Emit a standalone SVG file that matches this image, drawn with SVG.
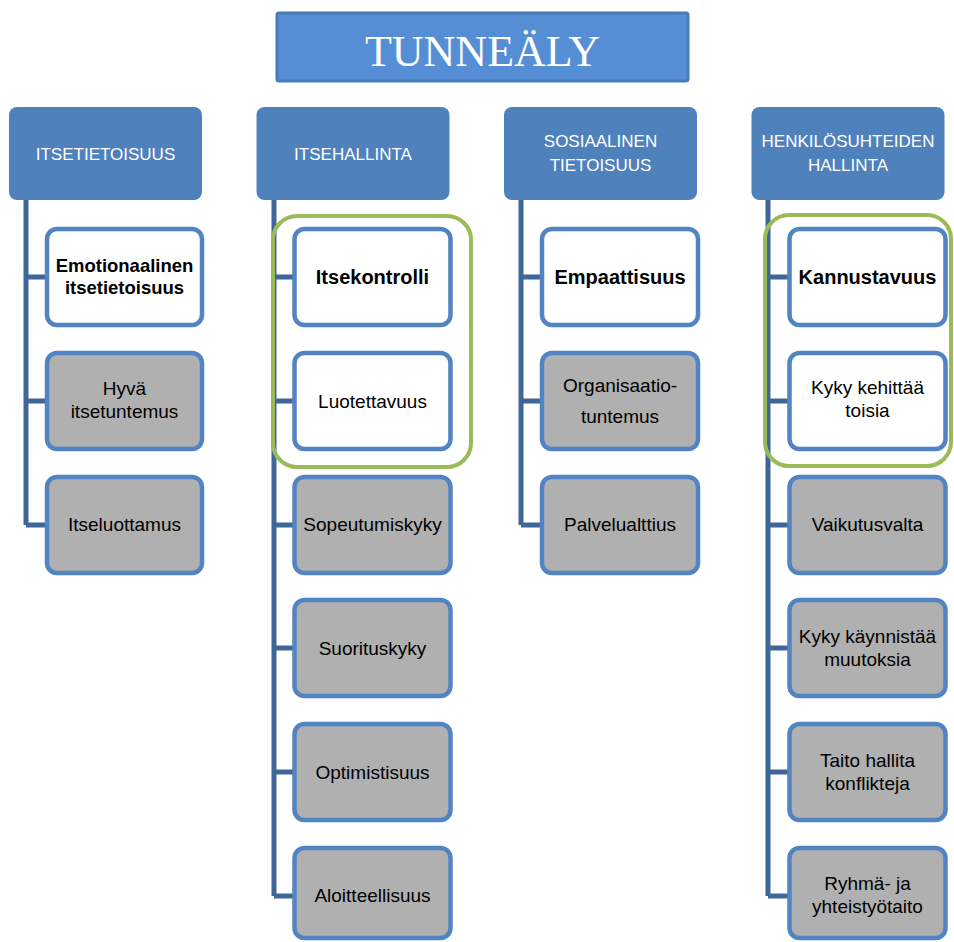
<svg xmlns="http://www.w3.org/2000/svg" width="954" height="942" viewBox="0 0 954 942">
<style>
.hdr{fill:#4F81BD;}
.ht{fill:#FFFFFF;font-family:"Liberation Sans",Arial,sans-serif;font-size:17px;text-anchor:middle;}
.ch{stroke:#5283C2;stroke-width:4.5;}
.w{fill:#FFFFFF;}
.g{fill:#B0B0B0;}
.t{fill:#000000;font-family:"Liberation Sans",Arial,sans-serif;font-size:19px;text-anchor:middle;}
.b{font-weight:bold;font-size:20px;}
.b.s{font-size:18.5px;}
.con{fill:none;stroke:#3F6699;stroke-width:5;}
.grp{fill:none;stroke:#9BBB59;stroke-width:4;}
</style>
<rect width="954" height="942" fill="#FFFFFF"/>
<g id="title">
<rect x="277" y="13" width="411" height="68" fill="#558ED5" stroke="#4A7BBA" stroke-width="3" rx="2"/>
<text x="482.5" y="66" fill="#FFFFFF" font-family="'Liberation Serif','Times New Roman',serif" font-size="44" text-anchor="middle">TUNNEÄLY</text>
</g>
<g id="connectors">
<path class="con" d="M26,200 V525 M26,277 H46 M26,401 H46 M26,525 H46"/>
<path class="con" d="M274,200 V896 M274,277 H293 M274,401 H293 M274,525 H293 M274,648 H293 M274,772 H293 M274,896 H293"/>
<path class="con" d="M521,200 V525 M521,277 H541 M521,401 H541 M521,525 H541"/>
<path class="con" d="M768,200 V896 M768,277 H788 M768,401 H788 M768,525 H788 M768,648 H788 M768,772 H788 M768,896 H788"/>
</g>
<g id="h1"><rect class="hdr" x="9" y="107" width="193" height="93" rx="8"/><text class="ht" x="105.5" y="159.5">ITSETIETOISUUS</text></g>
<g id="h2"><rect class="hdr" x="256.5" y="107" width="193" height="93" rx="8"/><text class="ht" x="353" y="159.5">ITSEHALLINTA</text></g>
<g id="h3"><rect class="hdr" x="504" y="107" width="193" height="93" rx="8"/><text class="ht" x="600.5" y="147">SOSIAALINEN</text><text class="ht" x="600.5" y="171">TIETOISUUS</text></g>
<g id="h4"><rect class="hdr" x="751.5" y="107" width="193" height="93" rx="8"/><text class="ht" x="848" y="147">HENKILÖSUHTEIDEN</text><text class="ht" x="848" y="171">HALLINTA</text></g>

<g id="c1a"><rect class="ch w" x="47" y="229" width="155" height="96" rx="10"/><text class="t b s" x="124.5" y="272">Emotionaalinen</text><text class="t b s" x="124.5" y="294">itsetietoisuus</text></g>
<g id="c1b"><rect class="ch g" x="47" y="353" width="155" height="96" rx="10"/><text class="t" x="124.5" y="395">Hyvä</text><text class="t" x="124.5" y="418">itsetuntemus</text></g>
<g id="c1c"><rect class="ch g" x="47" y="477" width="155" height="96" rx="10"/><text class="t" x="124.5" y="531">Itseluottamus</text></g>

<g id="c2a"><rect class="ch w" x="294.5" y="229" width="156" height="96" rx="10"/><text class="t b" x="372.5" y="284">Itsekontrolli</text></g>
<g id="c2b"><rect class="ch w" x="294.5" y="353" width="156" height="96" rx="10"/><text class="t" x="372.5" y="407.5">Luotettavuus</text></g>
<g id="c2c"><rect class="ch g" x="294.5" y="477" width="156" height="96" rx="10"/><text class="t" x="372.5" y="531">Sopeutumiskyky</text></g>
<g id="c2d"><rect class="ch g" x="294.5" y="600" width="156" height="96" rx="10"/><text class="t" x="372.5" y="654.5">Suorituskyky</text></g>
<g id="c2e"><rect class="ch g" x="294.5" y="724" width="156" height="96" rx="10"/><text class="t" x="372.5" y="778.5">Optimistisuus</text></g>
<g id="c2f"><rect class="ch g" x="294.5" y="848" width="156" height="90" rx="10"/><text class="t" x="372.5" y="902">Aloitteellisuus</text></g>

<g id="c3a"><rect class="ch w" x="542" y="229" width="156" height="96" rx="10"/><text class="t b" x="620" y="284">Empaattisuus</text></g>
<g id="c3b"><rect class="ch g" x="542" y="353" width="156" height="96" rx="10"/><text class="t" x="620" y="392">Organisaatio-</text><text class="t" x="620" y="423">tuntemus</text></g>
<g id="c3c"><rect class="ch g" x="542" y="477" width="156" height="96" rx="10"/><text class="t" x="620" y="531">Palvelualttius</text></g>

<g id="c4a"><rect class="ch w" x="789.5" y="229" width="156" height="96" rx="10"/><text class="t b" x="867.5" y="284">Kannustavuus</text></g>
<g id="c4b"><rect class="ch w" x="789.5" y="353" width="156" height="96" rx="10"/><text class="t" x="867.5" y="394">Kyky kehittää</text><text class="t" x="867.5" y="417">toisia</text></g>
<g id="c4c"><rect class="ch g" x="789.5" y="477" width="156" height="96" rx="10"/><text class="t" x="867.5" y="531">Vaikutusvalta</text></g>
<g id="c4d"><rect class="ch g" x="789.5" y="600" width="156" height="96" rx="10"/><text class="t" x="867.5" y="643">Kyky käynnistää</text><text class="t" x="867.5" y="666">muutoksia</text></g>
<g id="c4e"><rect class="ch g" x="789.5" y="724" width="156" height="96" rx="10"/><text class="t" x="867.5" y="767">Taito hallita</text><text class="t" x="867.5" y="790">konflikteja</text></g>
<g id="c4f"><rect class="ch g" x="789.5" y="848" width="156" height="90" rx="10"/><text class="t" x="867.5" y="890">Ryhmä- ja</text><text class="t" x="867.5" y="913">yhteistyötaito</text></g>

<g id="group2"><rect class="grp" x="273" y="216" width="198" height="251" rx="24"/></g>
<g id="group4"><rect class="grp" x="765" y="215" width="186" height="251" rx="24"/></g>
</svg>
